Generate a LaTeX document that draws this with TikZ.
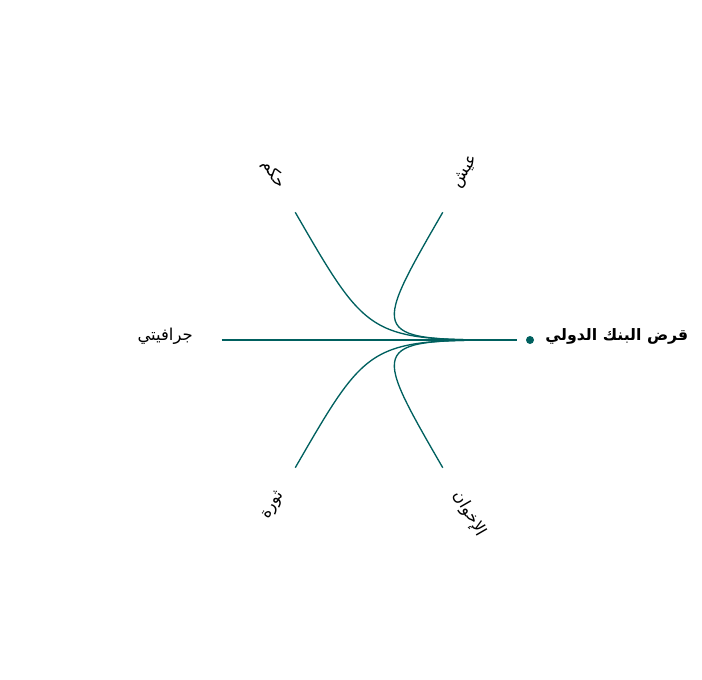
\documentclass[tikz,border=0pt]{standalone}
\usepackage{fontspec}
\usepackage{xcolor}
\usepackage{tikz}
\usetikzlibrary{calc}
\TeXXeTstate=1
\newfontfamily\arabicfont[Script=Arabic]{DejaVu Sans}
\definecolor{linkteal}{HTML}{00605F}

\begin{document}
\begin{tikzpicture}[x=0.75pt,y=-0.75pt,
		link/.style={linkteal,line width=1pt},
		leaflabel/.style={font=\arabicfont\fontsize{12.3}{14}\selectfont,inner sep=0pt},
		rootlabel/.style={font=\arabicfont\bfseries\fontsize{11.8}{14}\selectfont,inner sep=0pt,anchor=west}]
		\useasboundingbox (0,0) rectangle (702,679);
		\coordinate (hub) at (369,340);
		\coordinate (rootend) at (516.5,340);
		\coordinate (aish) at (442.75,212.3);
		\coordinate (hukm) at (295.25,212.3);
		\coordinate (graffiti) at (221.5,340);
		\coordinate (thawra) at (295.25,467.7);
		\coordinate (ikhwan) at (442.75,467.7);
		% links
		\draw[link] (aish) .. controls (hub) and (hub) .. (rootend);
		\draw[link] (hukm) .. controls (hub) and (hub) .. (rootend);
		\draw[link] (graffiti) .. controls (hub) and (hub) .. (rootend);
		\draw[link] (thawra) .. controls (hub) and (hub) .. (rootend);
		\draw[link] (ikhwan) .. controls (hub) and (hub) .. (rootend);
		% root
		\fill[linkteal] (530,340) circle (3pt) coordinate (root);
		\node[rootlabel] (rootname) at (545,336) {\beginR قرض البنك الدولي\endR};
		% leaves
		\node[leaflabel,anchor=west,rotate=60] (aishname) at (457,187.6) {\beginR عيش\endR};
		\node[leaflabel,anchor=east,rotate=-60] (hukmname) at (281,187.6) {\beginR حكم\endR};
		\node[leaflabel,anchor=east] (graffitiname) at (193,336) {\beginR جرافيتي\endR};
		\node[leaflabel,anchor=east,rotate=60] (thawraname) at (281,492.4) {\beginR ثورة\endR};
		\node[leaflabel,anchor=west,rotate=-60] (ikhwanname) at (457,492.4) {\beginR الإخوان\endR};
	\end{tikzpicture}
\end{document}
